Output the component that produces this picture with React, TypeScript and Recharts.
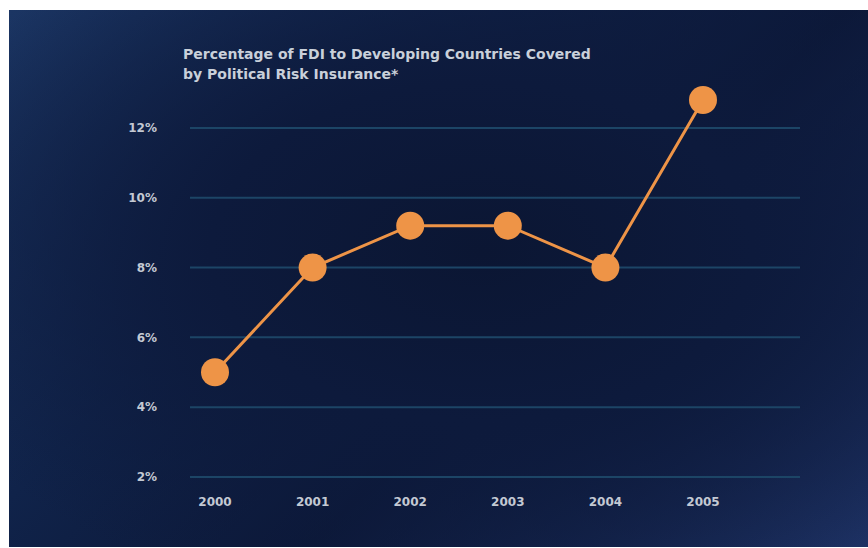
import React from "react";
import { LineChart, Line, XAxis, YAxis, CartesianGrid } from "recharts";

const years = ["2000", "2001", "2002", "2003", "2004", "2005"];
const coverage = [5.0, 8.0, 9.2, 9.2, 8.0, 12.8];
const yTicks = [2, 4, 6, 8, 10, 12];

const data = years.map((y, i) => ({ year: y, value: coverage[i] }));

const FONT = "'DejaVu Sans', Verdana, sans-serif";

export default function App() {
  return (
    <div style={{ position: "absolute", left: 0, top: 0, width: 868, height: 548, background: "#ffffff" }}>
      <div
        style={{
          position: "absolute",
          left: 9,
          top: 10,
          width: 859,
          height: 537,
          background:
            "radial-gradient(ellipse 70% 70% at 55% 45%, #0b1633 0%, #0d1a3c 45%, rgba(13,26,60,0) 100%), linear-gradient(135deg, #1b3563 0%, #10234a 35%, #0c1838 60%, #1d3163 100%)",
        }}
      />
      <div
        style={{
          position: "absolute",
          left: 183,
          top: 44,
          fontFamily: FONT,
          fontSize: 14,
          lineHeight: "20px",
          color: "#c9d0da",
          fontWeight: "bold",
        }}
      >
        Percentage of FDI to Developing Countries Covered
        <br />
        by Political Risk Insurance*
      </div>
      <div style={{ position: "absolute", left: 0, top: 0 }}>
        <LineChart width={868} height={548} data={data} margin={{ top: 93, right: 68, bottom: 41, left: 130 }}>
          <CartesianGrid vertical={false} horizontalValues={yTicks} stroke="#1c4566" strokeWidth={2} />
          <XAxis
            dataKey="year"
            axisLine={false}
            tickLine={false}
            padding={{ left: 25, right: 97 }}
            height={30}
            tickSize={0}
            tickMargin={20}
            tick={{ fill: "#c3c9d3", fontSize: 12, fontFamily: FONT, fontWeight: "bold" }}
          />
          <YAxis
            type="number"
            domain={[2, 13]}
            ticks={yTicks}
            width={60}
            axisLine={false}
            tickLine={false}
            tickSize={0}
            tickMargin={33}
            tickFormatter={(v: number) => `${v}%`}
            tick={{ fill: "#c3c9d3", fontSize: 12, fontFamily: FONT, fontWeight: "bold" }}
          />
          <Line
            type="linear"
            dataKey="value"
            stroke="#ee9447"
            strokeWidth={3}
            dot={{ r: 14, fill: "#ee9447", stroke: "none" }}
            activeDot={false}
            isAnimationActive={false}
          />
        </LineChart>
      </div>
    </div>
  );
}
